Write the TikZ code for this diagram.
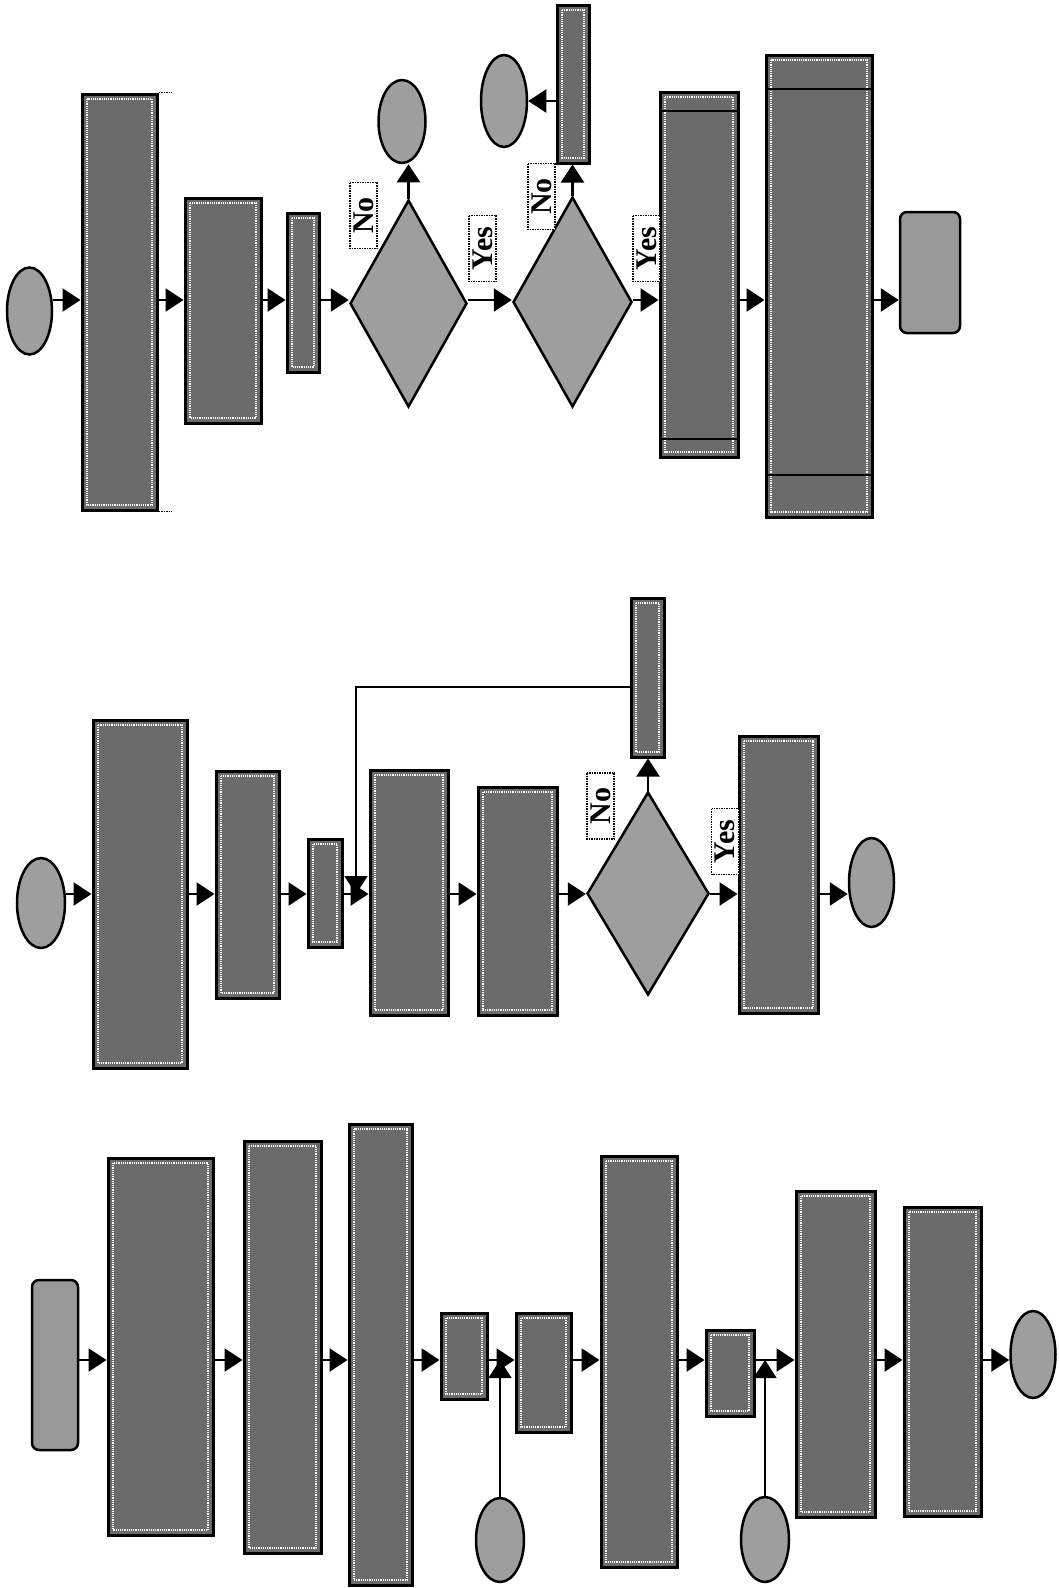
\documentclass[tikz,border=0pt]{standalone}
\usepackage{fontspec}
\setmainfont{Liberation Serif}
\usepackage{tikz}
\usetikzlibrary{calc, shapes.geometric, arrows.meta}

\tikzset{
    box/.style={draw, line width=3pt, fill=black!58, inner sep=0pt,
        path picture={\draw[white, densely dotted, line width=1.2pt]
            ([shift={(5pt,-5pt)}]path picture bounding box.north west) rectangle
            ([shift={(-5pt,5pt)}]path picture bounding box.south east);}},
    term/.style={draw, ellipse, line width=2.5pt, fill=black!38, inner sep=0pt},
    endbox/.style={draw, rectangle, rounded corners=7pt, line width=2.5pt, fill=black!40, inner sep=0pt},
    test/.style={draw, diamond, line width=2.5pt, fill=black!38, inner sep=0pt},
    lbl/.style={draw, densely dotted, line width=1.5pt, fill=white, rotate=90, inner sep=0pt,
        minimum width=66pt, minimum height=27pt, font=\fontsize{30}{30}\selectfont\bfseries}
}

\begin{document}
\begin{tikzpicture}[x=1pt, y=-1pt, line width=2.5pt, >={Triangle[length=18pt,width=23pt]}]
    \useasboundingbox (0,0) rectangle (1058,1588);
    % Lưu đồ 1
    \coordinate (L1) at (0,300);
    \node[term, minimum width=45pt, minimum height=87pt] (p1s) at (29.5,311) {};
    \node[box, minimum width=75pt, minimum height=416pt] (p1b1) at (119.5,302) {};
    \node[box, minimum width=76pt, minimum height=225pt] (p1b2) at (223,310.5) {};
    \node[box, minimum width=32pt, minimum height=159pt] (p1b3) at (303,292.5) {};
    \node[test, minimum width=117pt, minimum height=207pt] (p1d1) at (408.5,303.5) {};
    \node[term, minimum width=47pt, minimum height=83pt] (p1e1) at (402,121.5) {};
    \node[test, minimum width=119pt, minimum height=210pt] (p1d2) at (572.5,302) {};
    \node[box, minimum width=32pt, minimum height=158pt] (p1b6) at (573,84) {};
    \node[term, minimum width=46pt, minimum height=92pt] (p1e2) at (504,101) {};
    \node[box, minimum width=78pt, minimum height=365pt] (p1b4) at (699,274.5) {};
    \node[box, minimum width=106pt, minimum height=462pt] (p1b5) at (819,286) {};
    \node[endbox, minimum width=60pt, minimum height=121pt] (p1end) at (930,272.5) {};
    \node[lbl] (p1no1) at (363.5,215.5) {No};
    \node[lbl] (p1yes1) at (482.5,248.5) {Yes};
    \node[lbl] (p1no2) at (541.5,196.5) {No};
    \node[lbl] (p1yes2) at (646.5,248.5) {Yes};
    \foreach \a/\b in {p1s/p1b1, p1b1/p1b2, p1b2/p1b3, p1b3/p1d1, p1d1/p1d2, p1d2/p1b4, p1b4/p1b5, p1b5/p1end}
        \draw[->] (\a.east |- L1) -- (\b.west |- L1);
    \draw[->] (p1d1.north) -- (p1d1.north |- p1e1.south);
    \draw[->] (p1d2.north) -- (p1d2.north |- p1b6.south);
    \draw[->] (p1b6.west |- p1e2) -- (p1e2.east);
    \draw[line width=2pt] ($(p1b4.north west)+(0,20)$) -- ($(p1b4.north east)+(0,20)$);
    \draw[line width=2pt] ($(p1b4.south west)+(0,-20)$) -- ($(p1b4.south east)+(0,-20)$);
    \draw[line width=2pt] ($(p1b5.north west)+(0,35)$) -- ($(p1b5.north east)+(0,35)$);
    \draw[line width=2pt] ($(p1b5.south west)+(0,-44)$) -- ($(p1b5.south east)+(0,-44)$);
    \draw[densely dotted, line width=1.5pt] (p1b1.north east) -- ++(13,0);
    \draw[densely dotted, line width=1.5pt] (p1b1.south east) -- ++(13,0);

    % Lưu đồ 2
    \coordinate (L2) at (0,894);
    \node[term, minimum width=48pt, minimum height=90pt] (p2s) at (41,903) {};
    \node[box, minimum width=94pt, minimum height=348pt] (p2b1) at (140,894) {};
    \node[box, minimum width=63pt, minimum height=227pt] (p2b2) at (247.5,884.5) {};
    \node[box, minimum width=34pt, minimum height=108pt] (p2b3) at (325,893) {};
    \node[box, minimum width=78pt, minimum height=245pt] (p2b4) at (409,892.5) {};
    \node[box, minimum width=79pt, minimum height=228pt] (p2b5) at (517.5,901) {};
    \node[test, minimum width=122pt, minimum height=203pt] (p2d) at (648,893.5) {};
    \node[box, minimum width=33pt, minimum height=159pt] (p2b6) at (647.5,677.5) {};
    \node[box, minimum width=79pt, minimum height=277pt] (p2b7) at (778.5,874.5) {};
    \node[term, minimum width=45pt, minimum height=89pt] (p2end) at (871.5,882.5) {};
    \node[lbl] (p2no) at (600.5,806) {No};
    \node[lbl] (p2yes) at (725,841.5) {Yes};
    \coordinate (p2fb) at (356,687);
    \foreach \a/\b in {p2s/p2b1, p2b1/p2b2, p2b2/p2b3, p2b3/p2b4, p2b4/p2b5, p2b5/p2d, p2d/p2b7, p2b7/p2end}
        \draw[->] (\a.east |- L2) -- (\b.west |- L2);
    \draw[->] (p2d.north) -- (p2d.north |- p2b6.south);
    \draw[->, line width=1.5pt] (p2b6.west |- p2fb) -- (p2fb) -- (p2fb |- L2);

    % Lưu đồ 3
    \coordinate (L3) at (0,1360);
    \node[endbox, minimum width=46pt, minimum height=170pt] (p3s) at (55,1365) {};
    \node[box, minimum width=105pt, minimum height=377pt] (p3b1) at (160.5,1346.5) {};
    \node[box, minimum width=77pt, minimum height=412pt] (p3b2) at (282.5,1347) {};
    \node[box, minimum width=63pt, minimum height=461pt] (p3b3) at (380.5,1354.5) {};
    \node[box, minimum width=46pt, minimum height=86pt] (p3b4) at (464,1356) {};
    \node[term, minimum width=48pt, minimum height=84pt] (p3i1) at (500,1540) {};
    \node[box, minimum width=55pt, minimum height=119pt] (p3b5) at (543.5,1372.5) {};
    \node[box, minimum width=76pt, minimum height=411pt] (p3b6) at (639,1361.5) {};
    \node[box, minimum width=48pt, minimum height=86pt] (p3b7) at (730,1373) {};
    \node[term, minimum width=48pt, minimum height=85pt] (p3i2) at (765,1539.5) {};
    \node[box, minimum width=79pt, minimum height=326pt] (p3b8) at (835.5,1354) {};
    \node[box, minimum width=77pt, minimum height=309pt] (p3b9) at (942.5,1361.5) {};
    \node[term, minimum width=45pt, minimum height=87pt] (p3end) at (1033,1354.5) {};
    \foreach \a/\b in {p3s/p3b1, p3b1/p3b2, p3b2/p3b3, p3b3/p3b4, p3b4/p3b5, p3b5/p3b6, p3b6/p3b7, p3b7/p3b8, p3b8/p3b9, p3b9/p3end}
        \draw[->] (\a.east |- L3) -- (\b.west |- L3);
    \draw[->, line width=1.5pt] (p3i1.north) -- (p3i1.north |- L3);
    \draw[->, line width=1.5pt] (p3i2.north) -- (p3i2.north |- L3);
\end{tikzpicture}
\end{document}
